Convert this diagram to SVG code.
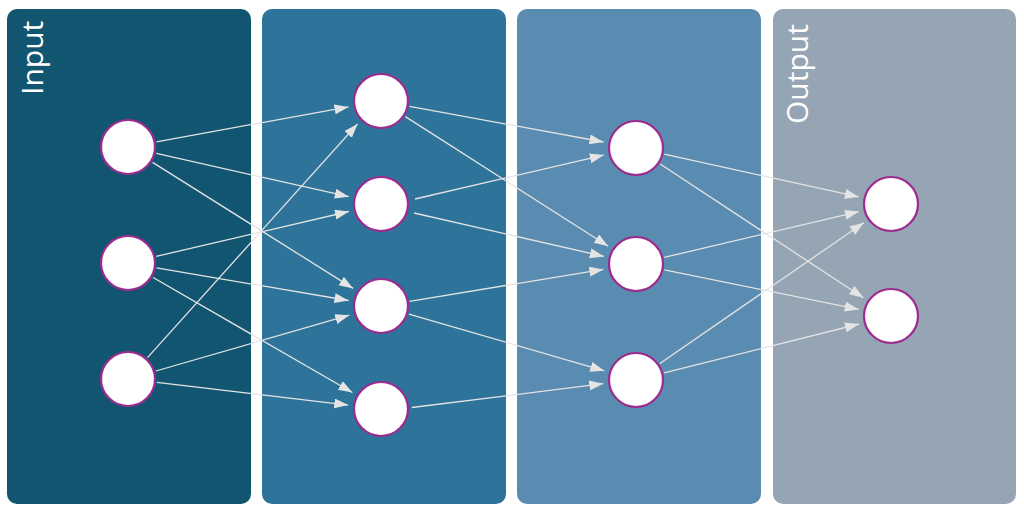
<svg xmlns="http://www.w3.org/2000/svg" width="1024" height="517" viewBox="0 0 1024 517">
<defs>
<style>
.panel{stroke:none}
.node{fill:#ffffff;stroke:#9b2b8f;stroke-width:2.2}
.lbl{font-family:"Open Sans","Noto Sans",sans-serif;font-size:30px;fill:#ffffff}
.conn line{stroke:#e4e4e4;stroke-width:1.3;marker-end:url(#arr)}
</style>
<marker id="arr" markerUnits="userSpaceOnUse" markerWidth="15" markerHeight="11" refX="14" refY="5" orient="auto">
<path d="M0,0 L14,5 L0,10 z" fill="#e4e4e4"/>
</marker>
</defs>
<rect width="1024" height="517" fill="#ffffff"/>
<g id="panels">
<rect class="panel" x="7" y="9" width="244" height="495" rx="10" fill="#115571"/>
<rect class="panel" x="262" y="9" width="244" height="495" rx="10" fill="#2e7399"/>
<rect class="panel" x="517" y="9" width="244" height="495" rx="10" fill="#5a8cb1"/>
<rect class="panel" x="773" y="9" width="243" height="495" rx="10" fill="#96a5b4"/>
</g>
<g id="labels">
<text class="lbl" transform="translate(43,95) rotate(-90)">Input</text>
<text class="lbl" transform="translate(808,124) rotate(-90)">Output</text>
</g>
<g id="connectors" class="conn">
<line x1="156.5" y1="141.8" x2="348.5" y2="106.9"/>
<line x1="156.3" y1="153.4" x2="348.8" y2="196.7"/>
<line x1="152.6" y1="162.4" x2="353.1" y2="288.4"/>
<line x1="156.2" y1="256.4" x2="348.9" y2="211.5"/>
<line x1="156.6" y1="267.9" x2="348.5" y2="300.5"/>
<line x1="153.1" y1="277.5" x2="352.4" y2="392.5"/>
<line x1="147.5" y1="357.6" x2="357.5" y2="124.0"/>
<line x1="155.9" y1="371.0" x2="349.3" y2="315.2"/>
<line x1="156.8" y1="382.4" x2="348.2" y2="405.1"/>
<line x1="409.5" y1="106.3" x2="603.5" y2="142.0"/>
<line x1="405.4" y1="116.6" x2="608.2" y2="246.2"/>
<line x1="415" y1="199" x2="603.8" y2="155.1"/>
<line x1="414" y1="213" x2="603.9" y2="256.4"/>
<line x1="409.6" y1="301.3" x2="603.4" y2="269.4"/>
<line x1="408.9" y1="314.1" x2="604.3" y2="370.8"/>
<line x1="411.8" y1="407.5" x2="603.2" y2="383.7"/>
<line x1="664.3" y1="154.2" x2="858.8" y2="196.9"/>
<line x1="660.2" y1="164.0" x2="863.4" y2="297.8"/>
<line x1="664.2" y1="257.4" x2="858.9" y2="211.6"/>
<line x1="664.4" y1="269.8" x2="858.7" y2="309.4"/>
<line x1="659.9" y1="363.5" x2="863.8" y2="222.7"/>
<line x1="664.1" y1="372.9" x2="859.0" y2="324.0"/>
</g>
<g id="in1"><circle class="node" cx="128" cy="147" r="27"/></g>
<g id="in2"><circle class="node" cx="128" cy="263" r="27"/></g>
<g id="in3"><circle class="node" cx="128" cy="379" r="27"/></g>
<g id="h1a"><circle class="node" cx="381" cy="101" r="27"/></g>
<g id="h1b"><circle class="node" cx="381" cy="204" r="27"/></g>
<g id="h1c"><circle class="node" cx="381" cy="306" r="27"/></g>
<g id="h1d"><circle class="node" cx="381" cy="409" r="27"/></g>
<g id="h2a"><circle class="node" cx="636" cy="148" r="27"/></g>
<g id="h2b"><circle class="node" cx="636" cy="264" r="27"/></g>
<g id="h2c"><circle class="node" cx="636" cy="380" r="27"/></g>
<g id="out1"><circle class="node" cx="891" cy="204" r="27"/></g>
<g id="out2"><circle class="node" cx="891" cy="316" r="27"/></g>
</svg>
